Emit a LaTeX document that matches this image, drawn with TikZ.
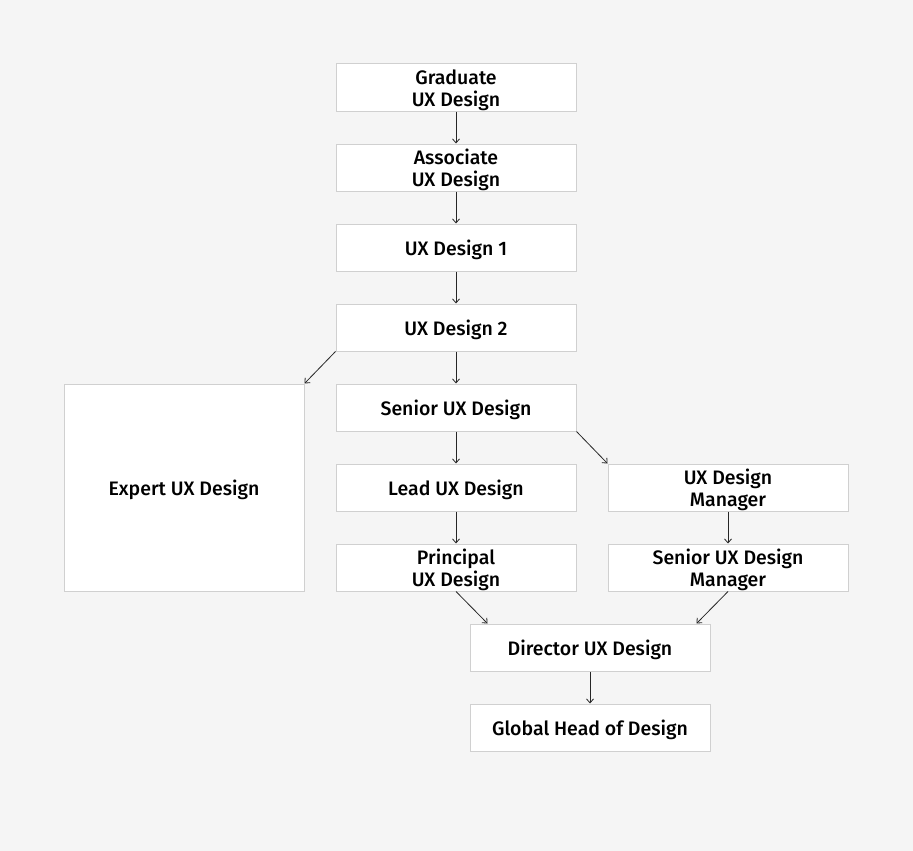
\documentclass[tikz,border=0pt]{standalone}
\usepackage{fontspec}
\setmainfont{Fira Sans Medium}
\usetikzlibrary{arrows.meta}
\definecolor{bg}{HTML}{F5F5F5}
\definecolor{bd}{HTML}{D0D0D0}
\begin{document}
\begin{tikzpicture}[x=1pt,y=-1pt,
  box/.style={draw=bd,fill=white,line width=1pt,minimum width=240pt,minimum height=47pt,inner sep=0pt},
  lbl/.style={align=center,inner sep=0pt,yshift=-2.5pt,font=\fontsize{19.5}{22}\selectfont},
  conn/.style={draw=black!85,line width=0.8pt,-{Straight Barb[length=4pt,width=7pt]}}]
\fill[bg] (0,0) rectangle (913,851);
\useasboundingbox (0,0) rectangle (913,851);
\node[box,label={[lbl]center:{Graduate\\UX Design}}] (grad) at (456,87.5) {};
\node[box,label={[lbl]center:{Associate\\UX Design}}] (assoc) at (456,167.5) {};
\node[box,label={[lbl]center:{UX Design 1}}] (ux1) at (456,247.5) {};
\node[box,label={[lbl]center:{UX Design 2}}] (ux2) at (456,327.5) {};
\node[box,label={[lbl]center:{Senior UX Design}}] (senior) at (456,407.5) {};
\node[box,label={[lbl]center:{Lead UX Design}}] (lead) at (456,487.5) {};
\node[box,label={[lbl]center:{Principal\\UX Design}}] (principal) at (456,567.5) {};
\node[box,minimum height=207pt,label={[lbl]center:{Expert UX Design}}] (expert) at (184,487.5) {};
\node[box,label={[lbl]center:{UX Design\\Manager}}] (mgr) at (728,487.5) {};
\node[box,label={[lbl]center:{Senior UX Design\\Manager}}] (smgr) at (728,567.5) {};
\node[box,label={[lbl]center:{Director UX Design}}] (director) at (590,647.5) {};
\node[box,label={[lbl]center:{Global Head of Design}}] (global) at (590,727.5) {};
\draw[conn] (grad) -- (assoc);
\draw[conn] (assoc) -- (ux1);
\draw[conn] (ux1) -- (ux2);
\draw[conn] (ux2) -- (senior);
\draw[conn] (ux2.south west) -- (expert.north east);
\draw[conn] (senior) -- (lead);
\draw[conn] (senior.south east) -- (mgr.north west);
\draw[conn] (lead) -- (principal);
\draw[conn] (mgr) -- (smgr);
\draw[conn] (principal.south) -- ([xshift=18pt]director.north west);
\draw[conn] (smgr.south) -- ([xshift=-14pt]director.north east);
\draw[conn] (director) -- (global);
\end{tikzpicture}
\end{document}
